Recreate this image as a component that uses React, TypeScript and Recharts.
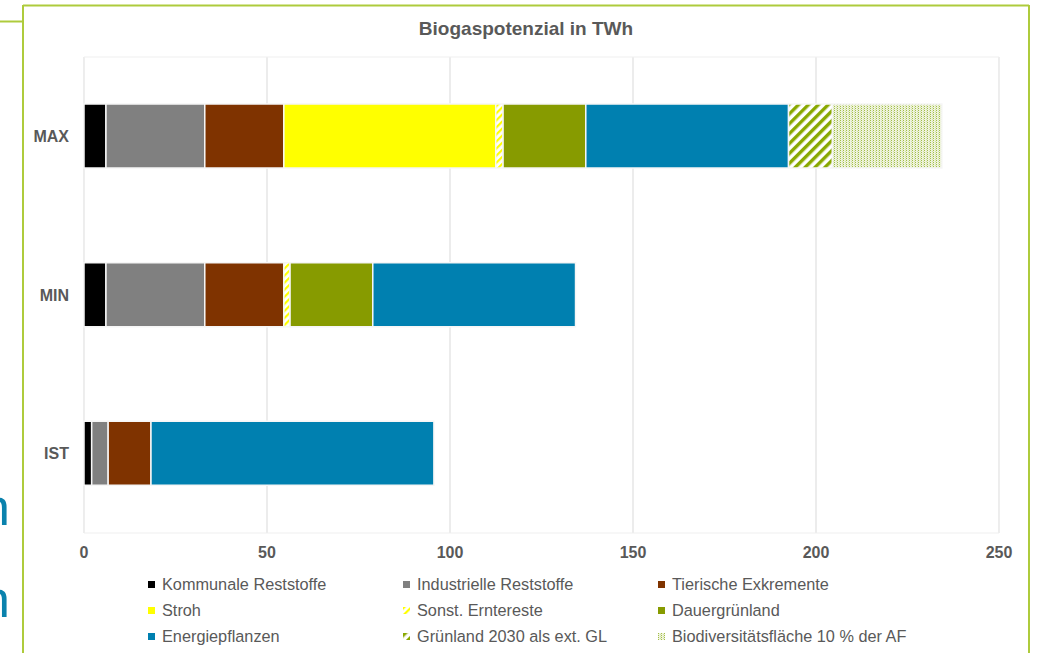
import React from "react";
import { BarChart, Bar, XAxis, YAxis, CartesianGrid, ReferenceArea } from "recharts";

const categories = ["MAX", "MIN", "IST"];
const kommunale = [6.0, 6.0, 2.1];
const industrielle = [27.0, 27.0, 4.5];
const tierische = [21.6, 21.6, 11.7];
const stroh = [57.9, 0, 0];
const sonst = [2.0, 1.7, 0];
const dauergruenland = [22.6, 22.6, 0];
const energiepflanzen = [55.4, 55.4, 77.3];
const gruenland2030 = [12.0, 0, 0];
const biodiv = [29.9, 0, 0];
const xTicks = [0, 50, 100, 150, 200, 250];

const seriesNames = [
  "Kommunale Reststoffe",
  "Industrielle Reststoffe",
  "Tierische Exkremente",
  "Stroh",
  "Sonst. Erntereste",
  "Dauergrünland",
  "Energiepflanzen",
  "Grünland 2030 als ext. GL",
  "Biodiversitätsfläche 10 % der AF",
];
const seriesValues = [
  kommunale,
  industrielle,
  tierische,
  stroh,
  sonst,
  dauergruenland,
  energiepflanzen,
  gruenland2030,
  biodiv,
];
const seriesFills = [
  "#000000",
  "#808080",
  "#7f3300",
  "#ffff00",
  "url(#patSonst)",
  "#879b00",
  "#0080b0",
  "url(#patGruen)",
  "url(#patBio)",
];

const data = categories.map((name, i) => {
  const row: any = { name };
  seriesValues.forEach((vals, s) => {
    row["s" + s] = vals[i];
  });
  return row;
});

const FONT = "'Liberation Sans', Arial, sans-serif";
const TEXT = "#595959";
const FRAME = "#aecb3c";

function Patterns() {
  return (
    <defs>
      <pattern id="patSonst" width="5" height="5" patternUnits="userSpaceOnUse" patternTransform="rotate(45)">
        <rect width="5" height="5" fill="#ffffff" />
        <rect width="2.2" height="5" fill="#ffff00" />
      </pattern>
      <pattern id="patGruen" width="7" height="7" patternUnits="userSpaceOnUse" patternTransform="rotate(45)">
        <rect width="7" height="7" fill="#ffffff" />
        <rect width="3.4" height="7" fill="#89a800" />
      </pattern>
      <pattern id="patBio" width="3" height="2" patternUnits="userSpaceOnUse">
        <rect width="3" height="2" fill="#eef3dc" />
        <rect x="0" y="0" width="1" height="1" fill="#a3be48" />
        <rect x="2" y="1" width="1" height="1" fill="#d3e0a6" />
      </pattern>
    </defs>
  );
}

export default function App() {
  return (
    <div
      style={{
        position: "absolute",
        left: 0,
        top: 0,
        width: 1040,
        height: 653,
        overflow: "hidden",
        background: "#ffffff",
        fontFamily: FONT,
      }}
    >
      <svg width={1040} height={653} style={{ position: "absolute", left: 0, top: 0 }}>
        <line x1={0} y1={21.5} x2={23} y2={21.5} stroke={FRAME} strokeWidth={2} />
        <line x1={23} y1={5.5} x2={1029} y2={5.5} stroke={FRAME} strokeWidth={2} />
        <line x1={23} y1={5} x2={23} y2={653} stroke={FRAME} strokeWidth={2} />
        <line x1={1029} y1={5} x2={1029} y2={653} stroke={FRAME} strokeWidth={2} />
        <text x={-19} y={525} fill="#0a82ad" fontSize={52} fontFamily={FONT}>n</text>
        <text x={-19} y={617} fill="#0a82ad" fontSize={52} fontFamily={FONT}>n</text>
        <text
          x={526}
          y={35}
          textAnchor="middle"
          fill={TEXT}
          fontSize={19}
          fontWeight="bold"
          fontFamily={FONT}
        >
          Biogaspotenzial in TWh
        </text>
      </svg>
      <div style={{ position: "absolute", left: 0, top: 0 }}>
        <BarChart
          layout="vertical"
          width={1040}
          height={653}
          data={data}
          margin={{ top: 57, right: 41, bottom: 90, left: 24 }}
          barSize={64}
        >
          <Patterns />
          <ReferenceArea x1={0} x2={250} fill="none" stroke="#efefef" strokeWidth={1} ifOverflow="visible" />
          <CartesianGrid horizontal={false} vertical={true} stroke="#d9d9d9" />
          <XAxis
            type="number"
            domain={[0, 250]}
            ticks={xTicks}
            axisLine={false}
            tickLine={false}
            tickSize={0}
            tickMargin={14}
            height={30}
            tick={{ fill: TEXT, fontSize: 16, fontWeight: "bold", fontFamily: FONT }}
          />
          <YAxis
            type="category"
            dataKey="name"
            width={60}
            axisLine={false}
            tickLine={false}
            tickSize={0}
            tickMargin={15}
            tick={{ fill: TEXT, fontSize: 16, fontWeight: "bold", fontFamily: FONT }}
          />
          {seriesNames.map((n, s) => (
            <Bar
              key={n}
              dataKey={"s" + s}
              name={n}
              stackId="a"
              fill={seriesFills[s]}
              stroke="#f6f6f6"
              strokeWidth={1.5}
              isAnimationActive={false}
            />
          ))}
        </BarChart>
      </div>
      <div
        style={{
          position: "absolute",
          left: 148,
          top: 571,
          display: "grid",
          gridTemplateColumns: "255px 255px 255px",
          gridAutoRows: "26px",
        }}
      >
        {seriesNames.map((n, s) => (
          <div key={n} style={{ display: "flex", alignItems: "center", height: 26 }}>
            <svg width={7} height={7} style={{ marginRight: 7, flex: "none" }}>
              <rect width={7} height={7} fill={seriesFills[s]} />
            </svg>
            <span style={{ fontSize: 16.3, color: TEXT, whiteSpace: "nowrap", fontFamily: FONT }}>{n}</span>
          </div>
        ))}
      </div>
    </div>
  );
}
